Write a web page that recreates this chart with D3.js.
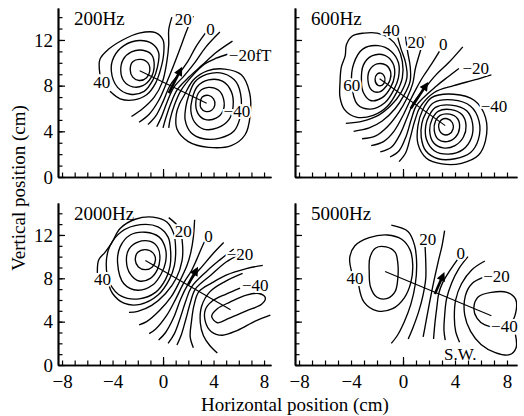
<!DOCTYPE html>
<html>
<head>
<meta charset="utf-8">
<script src="https://cdn.jsdelivr.net/npm/d3@7"></script>
<style>
body { margin: 0; background: #fff; }
</style>
</head>
<body>
<svg id="chart" width="524" height="416"></svg>
<script>
var FONT = '"Liberation Serif", "DejaVu Serif", serif';

// titles and ticks
var panelNames = ['200Hz', '600Hz', '2000Hz', '5000Hz'];
var xTickLabels = [-8, -4, 0, 4, 8];
var yTickLabels = [0, 4, 8, 12];
var xMinorTicks = d3.range(-8, 9);
var yMinorTicks = d3.range(0, 15);

// all positions in cm
// ---- 200Hz
var closed200 = [
  [[-2.6,9.4],[-2.4,10.1],[-1.8,10.3],[-1.2,10.0],[-1.05,9.3],[-1.3,8.7],[-1.9,8.45],[-2.4,8.75]],
  [[-3.35,9.3],[-3.15,10.3],[-2.5,10.95],[-1.6,11.1],[-0.9,10.7],[-0.7,9.8],[-0.95,8.7],[-1.6,8.0],[-2.4,7.9],[-3.1,8.4]],
  [[-4.1,9.3],[-3.9,10.5],[-3.1,11.5],[-1.9,11.95],[-0.9,11.7],[-0.35,10.9],[-0.45,9.6],[-0.8,8.5],[-1.5,7.5],[-2.6,7.25],[-3.6,7.85]],
  [[2.95,6.5],[3.1,7.0],[3.6,7.15],[4.0,6.85],[4.1,6.3],[3.85,5.85],[3.35,5.75],[3.0,6.05]],
  [[2.6,6.6],[2.9,7.5],[3.6,7.85],[4.4,7.6],[4.8,6.8],[4.75,5.8],[4.2,5.15],[3.3,5.05],[2.75,5.6]],
  [[2.3,6.8],[2.7,7.9],[3.6,8.5],[4.7,8.4],[5.4,7.5],[5.55,6.2],[5.2,5.0],[4.3,4.3],[3.2,4.2],[2.5,4.8],[2.2,5.8]],
  [[2.0,7.0],[2.5,8.3],[3.5,9.0],[4.8,9.05],[5.8,8.3],[6.2,6.8],[6.1,5.2],[5.6,4.0],[4.5,3.4],[3.2,3.35],[2.2,3.9],[1.75,5.0],[1.8,6.1]],
  [[1.7,7.2],[2.4,8.5],[3.5,9.3],[4.9,9.45],[6.2,8.95],[6.85,7.4],[6.9,5.4],[6.5,3.7],[5.4,2.75],[3.6,2.6],[2.0,3.1],[1.1,4.2],[1.05,5.5],[1.3,6.4]]
];
var open200 = [
  [[-5.0,9.0],[-5.0,10.3],[-4.3,11.2],[-3.2,12.0],[-1.9,12.6],[-0.6,12.65],[0.0,12.0],[0.05,10.8],[-0.2,9.4],[-0.6,8.2],[-1.3,7.2],[-2.3,6.75],[-3.4,6.85],[-4.2,7.5]],
  [[0.7,14.0],[0.45,12.9],[0.45,11.6],[0.3,10.1],[-0.05,8.33],[-0.7,7.0],[-1.6,6.0],[-2.5,5.3]],
  [[2.4,14.1],[1.9,12.9],[1.4,11.4],[0.85,9.8],[0.25,8.17],[-0.35,6.7],[-1.1,5.5],[-1.9,4.8]],
  [[3.35,12.6],[2.6,11.4],[1.95,10.1],[1.3,9.1],[0.55,8.01],[0.0,6.6],[-0.6,5.3],[-1.2,4.6]],
  [[4.5,12.7],[3.4,11.4],[2.5,10.0],[1.7,8.9],[0.85,7.85],[0.3,6.5],[-0.15,5.2],[-0.5,4.4]],
  [[5.5,11.9],[4.2,10.9],[3.1,9.8],[2.1,8.8],[1.15,7.69],[0.6,6.4],[0.2,5.1],[0.0,4.3]],
  [[5.1,10.75],[4.2,10.4],[3.3,9.9],[2.35,8.9],[1.4,7.55],[0.9,6.3],[0.55,5.0],[0.45,4.3]]
];
var dipole200 = [[-1.85,9.3],[3.45,6.45]];
var arrow200 = [[0.45,7.35],[1.35,9.3]];
var labels200 = [['20',1.6,13.8],['0',3.75,13.0],['\u221220fT',6.9,10.7],['40',-4.85,8.35],['\u221240',5.85,5.75]];

// ---- 600Hz
var closed600 = [
  [[-2.15,8.55],[-2.0,9.0],[-1.7,9.1],[-1.45,8.85],[-1.4,8.4],[-1.6,8.05],[-1.95,8.05]],
  [[-2.7,8.5],[-2.55,9.4],[-2.0,9.9],[-1.3,9.8],[-0.95,9.2],[-1.0,8.5],[-1.25,8.0],[-1.8,7.45],[-2.4,7.6]],
  [[-3.2,8.4],[-3.05,9.8],[-2.4,10.6],[-1.4,10.65],[-0.75,9.9],[-0.65,8.9],[-0.95,7.85],[-1.6,6.95],[-2.5,6.7],[-3.05,7.4]],
  [[-3.95,8.2],[-3.8,9.9],[-3.1,11.2],[-1.9,11.5],[-0.9,11.0],[-0.35,10.0],[-0.35,8.7],[-0.7,7.65],[-1.4,6.5],[-2.5,5.95],[-3.5,6.35]],
  [[-4.85,8.2],[-4.75,9.6],[-4.45,10.6],[-4.35,11.6],[-3.9,12.35],[-3.0,12.6],[-2.0,12.6],[-1.1,12.2],[-0.4,11.3],[-0.05,10.1],[-0.05,8.7],[-0.45,7.5],[-1.2,6.2],[-2.3,5.4],[-3.6,5.25],[-4.5,5.9],[-4.85,7.0]],
  [[2.75,4.6],[2.95,5.0],[3.4,5.1],[3.8,4.75],[3.85,4.2],[3.55,3.75],[3.05,3.75],[2.8,4.1]],
  [[2.5,4.9],[2.85,5.4],[3.6,5.5],[4.2,5.1],[4.35,4.3],[4.05,3.5],[3.4,3.1],[2.7,3.3],[2.4,4.1]],
  [[2.25,5.1],[2.7,5.75],[3.7,5.9],[4.55,5.45],[4.85,4.5],[4.65,3.5],[4.0,2.75],[3.1,2.55],[2.35,3.0],[2.05,4.1]],
  [[2.0,5.35],[2.5,6.1],[3.7,6.3],[4.9,5.8],[5.35,4.7],[5.25,3.4],[4.6,2.4],[3.5,2.0],[2.4,2.3],[1.8,3.3],[1.75,4.5]],
  [[1.75,5.6],[2.35,6.5],[3.8,6.75],[5.2,6.2],[5.85,4.9],[5.8,3.3],[5.2,2.15],[4.0,1.6],[2.7,1.6],[1.75,2.3],[1.4,3.5],[1.45,4.7]],
  [[1.5,5.85],[2.2,6.95],[3.9,7.25],[5.5,6.7],[6.35,5.2],[6.35,3.2],[5.8,1.9],[4.5,1.2],[3.0,1.15],[1.8,1.65],[1.15,2.9],[1.15,4.5]]
];
var open600 = [
  [[-0.45,12.4],[-0.15,11.2],[0.2,10.0],[0.3,8.7],[-0.2,7.3],[-0.9,6.3],[-1.9,5.4],[-3.1,4.9],[-4.4,4.7]],
  [[0.2,12.3],[0.35,11.0],[0.55,9.7],[0.55,8.4],[0.05,7.1],[-0.6,6.0],[-1.6,4.9],[-2.6,4.3],[-3.8,4.0]],
  [[1.7,12.3],[1.3,10.9],[0.95,9.5],[0.75,8.2],[0.3,6.9],[-0.3,5.7],[-1.2,4.4],[-2.1,3.6],[-3.15,3.35]],
  [[2.8,11.0],[2.2,9.9],[1.55,8.8],[1.0,7.7],[0.55,6.7],[0.05,5.5],[-0.7,4.0],[-1.5,3.1],[-2.45,2.75]],
  [[4.6,11.4],[3.5,10.0],[2.5,8.9],[1.7,7.8],[0.8,6.49],[0.35,5.3],[-0.2,3.8],[-0.9,2.6],[-1.75,2.2]],
  [[4.3,9.5],[3.5,8.8],[2.6,8.0],[1.05,6.29],[0.65,5.1],[0.25,3.6],[-0.3,2.3],[-1.0,1.75]],
  [[6.8,8.95],[5.5,8.5],[3.9,8.0],[2.4,7.4],[1.3,6.09],[0.9,4.9],[0.55,3.4],[0.2,2.1],[-0.3,1.35]]
];
var dipole600 = [[-1.8,8.6],[3.25,4.5]];
var arrow600 = [[0.6,6.0],[1.75,8.0]];
var labels600 = [['40',-0.9,12.9],['20',1.0,11.8],['0',3.1,11.6],['\u221220',5.6,9.5],['60',-3.95,8.05],['\u221240',7.0,6.2]];

// ---- 2000Hz
var closed2000 = [
  [[-2.2,9.7],[-2.0,10.4],[-1.4,10.65],[-0.8,10.35],[-0.6,9.7],[-0.85,9.05],[-1.4,8.8],[-1.95,9.05]],
  [[-2.9,9.6],[-2.7,10.7],[-2.0,11.35],[-1.0,11.4],[-0.4,10.8],[-0.25,9.8],[-0.45,8.8],[-1.0,8.0],[-1.9,7.75],[-2.6,8.4]],
  [[-3.6,9.4],[-3.4,10.9],[-2.6,12.0],[-1.4,12.25],[-0.3,11.8],[0.2,10.7],[0.2,9.5],[-0.15,8.4],[-0.8,7.4],[-2.0,6.9],[-3.1,7.5]],
  [[-4.5,9.3],[-4.2,11.0],[-3.3,12.3],[-1.8,12.95],[-0.4,12.75],[0.4,11.8],[0.6,10.5],[0.55,9.1],[0.2,7.9],[-0.6,6.7],[-1.9,6.1],[-3.3,6.35],[-4.2,7.5]],
  [[3.85,4.5],[4.3,5.2],[5.3,5.8],[6.6,6.45],[7.6,6.6],[8.1,6.2],[7.8,5.6],[6.6,5.0],[5.2,4.3],[4.3,3.9]]
];
var open2000 = [
  [[-5.2,8.5],[-5.1,9.7],[-4.6,10.4],[-4.1,11.2],[-3.4,12.6],[-2.2,13.45],[-0.8,13.65],[0.3,13.2],[0.85,12.1],[1.0,10.6],[0.9,9.2],[0.5,7.9],[-0.4,6.45],[-1.8,5.6],[-3.1,5.7],[-4.0,6.6],[-4.3,7.4]],
  [[0.45,13.6],[1.3,12.6],[1.55,11.0],[1.5,9.6],[1.05,8.0],[0.2,6.6],[-0.9,5.5],[-2.0,4.95],[-2.7,4.85]],
  [[2.5,13.4],[2.4,11.8],[2.2,10.4],[1.9,9.2],[1.35,7.8],[0.65,6.3],[-0.3,5.0],[-1.3,4.0],[-1.9,3.7]],
  [[3.5,11.9],[3.05,10.8],[2.65,9.7],[2.25,8.7],[1.65,7.6],[1.05,6.2],[0.3,4.6],[-0.6,3.3],[-1.1,2.9]],
  [[4.8,11.3],[3.9,10.2],[3.1,9.1],[2.5,8.3],[1.95,7.39],[1.4,6.1],[0.85,4.4],[0.2,3.0],[-0.35,2.3]],
  [[5.6,10.7],[4.5,9.7],[3.5,8.7],[2.25,7.19],[1.8,5.9],[1.35,4.3],[0.9,2.9],[0.4,2.0]],
  [[6.1,10.2],[5.0,9.5],[3.8,8.3],[2.55,6.99],[2.15,5.7],[1.8,4.2],[1.45,2.8],[1.1,1.85]],
  [[7.9,9.2],[6.6,8.9],[5.0,8.3],[3.9,7.6],[2.85,6.79],[2.45,5.5],[2.25,4.0],[2.15,2.6],[2.4,1.6]],
  [[6.3,8.45],[4.9,7.7],[3.7,6.75],[3.05,5.4],[2.95,3.9],[3.2,2.7],[3.7,1.8],[4.3,1.1]],
  [[6.1,7.1],[5.0,6.55],[3.9,5.9],[3.35,5.1],[3.35,4.0],[3.8,3.1],[4.7,2.75],[5.9,3.2],[7.3,4.05],[8.5,4.6]]
];
var dipole2000 = [[-1.4,9.65],[5.35,5.1]];
var arrow2000 = [[2.0,7.45],[2.6,8.7]];
var labels2000 = [['20',1.6,12.4],['0',3.6,11.9],['\u221220',6.1,10.2],['40',-4.8,7.9],['\u221240',7.3,7.4]];

// ---- 5000Hz
var closed5000 = [
  [[-2.6,8.6],[-2.55,9.9],[-2.1,10.8],[-1.3,10.9],[-0.6,10.4],[-0.4,9.4],[-0.4,8.0],[-0.6,6.8],[-1.2,6.15],[-2.0,6.25],[-2.5,7.2]],
  [[5.45,5.3],[5.8,6.3],[6.8,6.7],[8.0,6.7],[8.65,6.1],[8.7,5.0],[8.3,3.9],[7.3,3.5],[6.3,3.7],[5.7,4.3]]
];
var open5000 = [
  [[-3.95,8.6],[-4.1,9.9],[-3.7,11.0],[-2.6,11.75],[-1.2,12.0],[-0.1,11.6],[0.55,10.6],[0.75,9.2],[0.6,7.6],[0.1,6.2],[-0.8,5.2],[-2.0,5.0],[-3.0,5.8],[-3.4,7.3]],
  [[-0.9,12.9],[0.4,12.3],[0.9,11.0],[1.05,9.3],[0.95,7.5],[0.6,5.6],[0.1,4.0],[-0.45,2.7],[-0.9,2.0]],
  [[1.7,10.9],[1.75,9.5],[1.75,8.0],[1.55,6.5],[1.2,4.9],[0.75,3.4],[0.4,2.4]],
  [[3.2,12.4],[3.0,11.0],[2.7,9.5],[2.35,7.6],[2.05,5.8],[1.8,4.2],[1.55,2.6]],
  [[4.2,9.75],[3.6,8.7],[3.05,7.6],[2.75,6.6],[2.6,5.3],[2.45,3.8],[2.35,2.4]],
  [[5.0,10.0],[4.3,8.9],[3.75,7.6],[3.35,6.1],[3.2,4.5],[3.15,3.2],[3.25,2.3]],
  [[6.3,9.6],[5.3,8.8],[4.5,7.5],[4.05,6.0],[3.95,4.4],[4.05,3.1],[4.35,2.1]],
  [[6.2,8.1],[5.3,7.5],[4.8,6.4],[4.75,4.6],[5.2,3.1],[6.0,1.9],[7.1,1.15],[8.2,0.95],[8.7,1.6],[8.65,2.8]]
];
var dipole5000 = [[-1.38,8.62],[6.8,4.55]];
var arrow5000 = [[2.45,6.55],[3.05,8.2]];
var labels5000 = [['20',1.9,11.6],['0',4.45,10.35],['\u221220',7.2,8.2],['40',-3.7,8.0],['\u221240',7.8,3.6],['S.W.',4.4,1.0]];

var panels = [
  { title: panelNames[0], closed: closed200, open: open200, dipole: dipole200, arrow: arrow200, labels: labels200 },
  { title: panelNames[1], closed: closed600, open: open600, dipole: dipole600, arrow: arrow600, labels: labels600 },
  { title: panelNames[2], closed: closed2000, open: open2000, dipole: dipole2000, arrow: arrow2000, labels: labels2000 },
  { title: panelNames[3], closed: closed5000, open: open5000, dipole: dipole5000, arrow: arrow5000, labels: labels5000 }
];

// panel frames: [px left, px right, cm left, cm right] / [px bottom, px top, cm bottom, cm top]
var colX = [[58, 271, -8.32, 8.55], [295, 517, -8.31, 8.77]];
var rowY = [[177, 8, 0, 14.8], [365, 203, 0, 14.95]];

var svg = d3.select('#chart');
var defs = svg.append('defs');
defs.append('marker').attr('id', 'head')
    .attr('viewBox', '0 0 10 10').attr('refX', 5).attr('refY', 5)
    .attr('markerWidth', 4.2).attr('markerHeight', 3.4).attr('orient', 'auto')
  .append('path').attr('d', 'M0,0L10,5L0,10z').attr('fill', '#000');

panels.forEach(function (p, i) {
  var col = i % 2, row = Math.floor(i / 2);
  var cx = colX[col], ry = rowY[row];
  var x = d3.scaleLinear().domain([cx[2], cx[3]]).range([cx[0], cx[1]]);
  var y = d3.scaleLinear().domain([ry[2], ry[3]]).range([ry[0], ry[1]]);
  var g = svg.append('g');

  defs.append('clipPath').attr('id', 'clip' + i)
    .append('rect').attr('x', cx[0]).attr('y', ry[1])
    .attr('width', cx[1] - cx[0]).attr('height', ry[0] - ry[1]);

  var loopLine = d3.line().curve(d3.curveCatmullRomClosed.alpha(0.5))
    .x(function (d) { return x(d[0]); }).y(function (d) { return y(d[1]); });
  var openLine = d3.line().curve(d3.curveCatmullRom.alpha(0.5))
    .x(function (d) { return x(d[0]); }).y(function (d) { return y(d[1]); });
  var straight = d3.line()
    .x(function (d) { return x(d[0]); }).y(function (d) { return y(d[1]); });

  var c = g.append('g').attr('clip-path', 'url(#clip' + i + ')')
    .attr('fill', 'none').attr('stroke', '#000').attr('stroke-width', 1.35);
  c.selectAll('path.loop').data(p.closed).enter().append('path')
    .attr('class', 'loop').attr('d', loopLine);
  c.selectAll('path.open').data(p.open).enter().append('path')
    .attr('class', 'open').attr('d', openLine);
  c.append('path').attr('d', straight(p.dipole)).attr('stroke-width', 1.15);
  c.append('path').attr('d', straight(p.arrow)).attr('stroke-width', 2.6)
    .attr('marker-end', 'url(#head)');

  // contour labels, with a white halo breaking the lines
  g.selectAll('text.lab').data(p.labels).enter().append('text')
    .attr('class', 'lab')
    .attr('x', function (d) { return x(d[1]); })
    .attr('y', function (d) { return y(d[2]); })
    .attr('dy', '0.35em')
    .attr('text-anchor', 'middle')
    .attr('font-family', FONT).attr('font-size', 17)
    .attr('stroke', '#fff').attr('stroke-width', 4).attr('paint-order', 'stroke')
    .attr('fill', '#000')
    .text(function (d) { return d[0]; });

  // axes: ticks point into the panel
  var tickY = function (vals, len) {
    return g.append('g').attr('transform', 'translate(' + cx[0] + ',0)')
      .call(d3.axisRight(y).tickValues(vals).tickSize(len).tickSizeOuter(0).tickFormat(''));
  };
  var tickX = function (vals, len) {
    return g.append('g').attr('transform', 'translate(0,' + ry[0] + ')')
      .call(d3.axisTop(x).tickValues(vals).tickSize(len).tickSizeOuter(0).tickFormat(''));
  };
  [tickY(yMinorTicks, 4.5), tickY(yTickLabels, 7), tickX(xMinorTicks, 4.5), tickX([0], 8)]
    .forEach(function (a) {
      a.selectAll('line').attr('stroke-width', 1.2);
      a.select('.domain').attr('stroke-width', 1.7);
    });

  if (col === 0) {
    var yl = g.append('g').attr('transform', 'translate(' + (cx[0] - 3) + ',0)')
      .call(d3.axisLeft(y).tickValues(yTickLabels).tickSize(0).tickPadding(2));
    yl.select('.domain').remove();
    yl.attr('font-family', FONT).attr('font-size', 19);
  }
  if (row === 1) {
    var xl = g.append('g').attr('transform', 'translate(0,' + ry[0] + ')')
      .call(d3.axisBottom(x).tickValues(xTickLabels).tickSize(0).tickPadding(10));
    xl.select('.domain').remove();
    xl.attr('font-family', FONT).attr('font-size', 19);
  }

  g.append('text')
    .attr('x', cx[0] + 16).attr('y', ry[1] + 17)
    .attr('font-family', FONT).attr('font-size', 19)
    .text(p.title);
});

svg.append('text')
  .attr('transform', 'translate(18,188) rotate(-90)')
  .attr('text-anchor', 'middle').attr('dy', '0.35em')
  .attr('font-family', FONT).attr('font-size', 19)
  .text('Vertical position (cm)');

svg.append('text')
  .attr('x', 295).attr('y', 411)
  .attr('text-anchor', 'middle')
  .attr('font-family', FONT).attr('font-size', 19)
  .text('Horizontal position (cm)');
</script>
</body>
</html>
